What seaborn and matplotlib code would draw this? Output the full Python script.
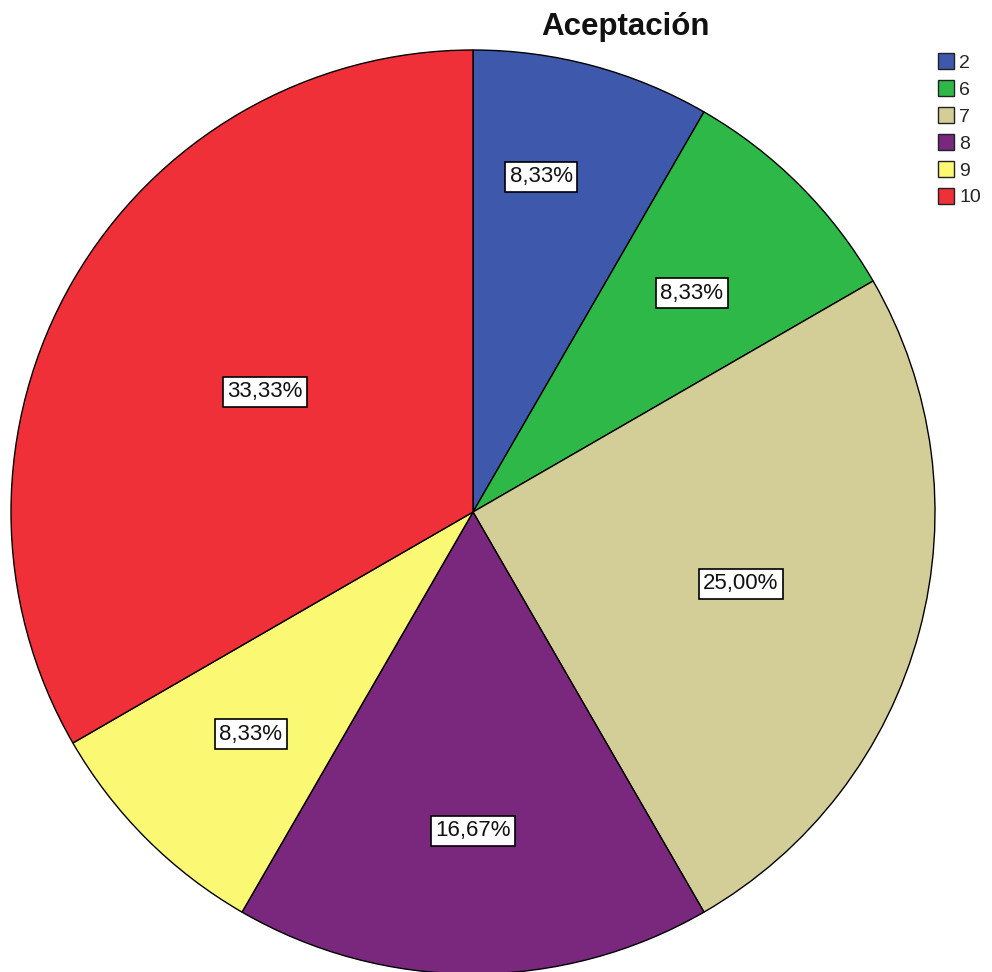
import matplotlib
matplotlib.use("Agg")
import matplotlib.pyplot as plt
import seaborn as sns
import numpy as np
from matplotlib.patches import Patch

categories = ["2", "6", "7", "8", "9", "10"]
counts = [1, 1, 3, 2, 1, 4]
colors = ["#3E58AC", "#2EB848", "#D3CE97", "#79287D", "#FBF873", "#EF3038"]
title = "Aceptación"

# per-wedge label distance and angle offset (style)
label_dist = [0.74, 0.67, 0.60, 0.69, 0.68, 0.52]
label_shift = [3.5, 0.0, 0.0, 0.0, 0.0, 0.0]

sns.set_theme(style="white")
plt.rcParams["font.family"] = ["Liberation Sans", "DejaVu Sans"]

fig = plt.figure(figsize=(9.92, 9.72), dpi=100)
ax = fig.add_axes([(473 - 462) / 992, (460 - 462) / 972, 924 / 992, 924 / 972])

wedges, _ = ax.pie(counts, colors=colors, startangle=90, counterclock=False,
                   radius=1.0, wedgeprops=dict(edgecolor="black", linewidth=1.0))
ax.set_xlim(-1, 1)
ax.set_ylim(-1, 1)
ax.set_aspect("equal")
ax.axis("off")

total = sum(counts)
for w, c, d, s in zip(wedges, counts, label_dist, label_shift):
    ang = np.deg2rad((w.theta1 + w.theta2) / 2 + s)
    x, y = d * np.cos(ang), d * np.sin(ang)
    pct = f"{100 * c / total:.2f}%".replace(".", ",")
    ax.text(x, y, pct, ha="center", va="center", fontsize=16, color="#111111",
            bbox=dict(boxstyle="square,pad=0.2", facecolor="white",
                      edgecolor="black", linewidth=1.2))

fig.text(625 / 992, 1 - 27 / 972, title, ha="center", va="center",
         fontsize=22.5, fontweight="bold", color="#111111")

handles = [Patch(facecolor=col, edgecolor="#222222", linewidth=1.0, label=cat)
           for col, cat in zip(colors, categories)]
fig.legend(handles=handles, loc="upper left", bbox_to_anchor=(938 / 992, 1 - 53 / 972),
           frameon=False, fontsize=14, handlelength=0.8, handleheight=0.9,
           handletextpad=0.3, labelspacing=0.42, borderpad=0.0, borderaxespad=0.0)

fig.savefig("out.png", dpi=100, facecolor="white")
